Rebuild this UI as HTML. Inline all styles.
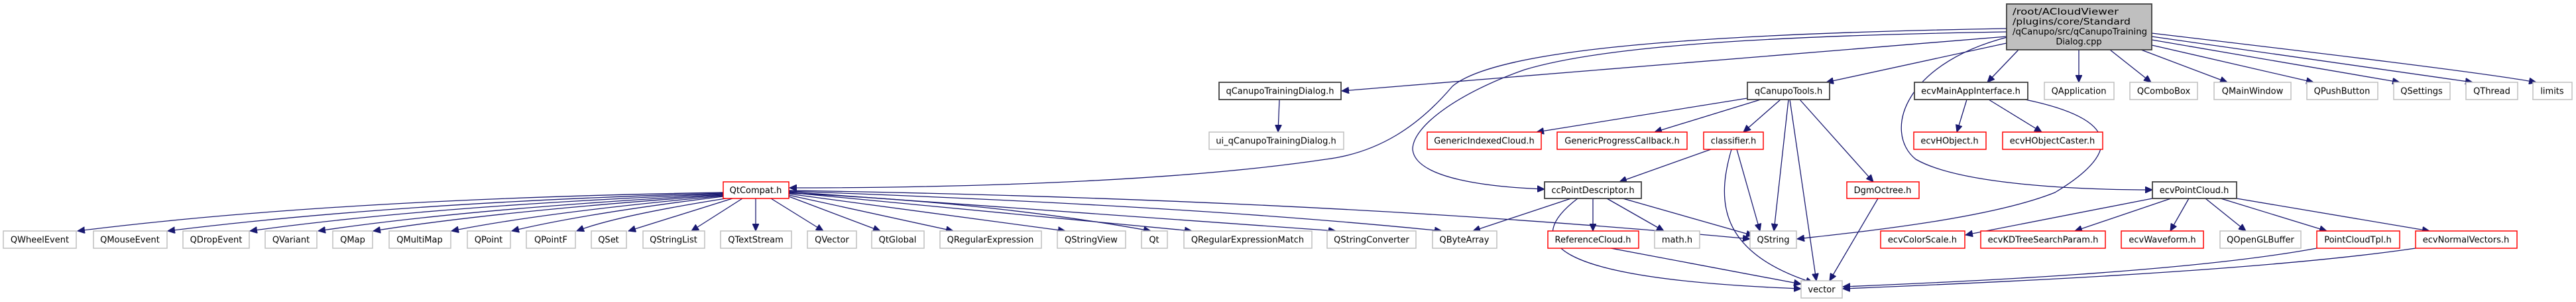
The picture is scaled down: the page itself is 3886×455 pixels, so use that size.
<!DOCTYPE html>
<html><head><meta charset="utf-8"><style>
html,body{margin:0;padding:0;background:#fff;}
svg{display:block;}
text{font-family:"DejaVu Sans","Liberation Sans",sans-serif;font-size:13px;fill:#000;}
.e{fill:none;stroke:#191970;stroke-width:1.3;}
.g{fill:#fff;stroke:#bfbfbf;stroke-width:1.5;}
.r{fill:#fff;stroke:#ff0000;stroke-width:1.5;}
.b{fill:#fff;stroke:#404040;stroke-width:1.8;}
</style></head><body>
<svg width="3886" height="455" viewBox="0 0 3886 455" xmlns="http://www.w3.org/2000/svg">
<defs><marker id="a" markerUnits="userSpaceOnUse" markerWidth="12" markerHeight="10" refX="11" refY="5" orient="auto"><path d="M0,0 L11,5 L0,10 z" fill="#191970" stroke="#191970"/></marker></defs>
<g class="e" marker-end="url(#a)">
<!-- root edges -->
<path d="M3027,55 L2024,137"/>
<path d="M3027,65 L2755,124"/>
<path d="M3045,75 L2998,124"/>
<path d="M3136,75 L3136,124"/>
<path d="M3183,75 L3245,124"/>
<path d="M3230,75 L3360,124"/>
<path d="M3246,68 L3490,124"/>
<path d="M3246,60 L3620,124"/>
<path d="M3246,55 L3730,124"/>
<path d="M3246,50 C3500,80 3750,110 3826,124"/>
<path d="M3027,43 C2500,52 2250,80 2191,130 C2140,190 2080,230 2000,240 C1800,270 1500,283 1191,283"/>
<path d="M3027,48 C2600,55 2400,75 2300,105 C2200,140 2131,190 2131,225 C2135,270 2250,282 2330,285"/>
<path d="M3045,52 C2870,90 2840,200 2890,240 C2960,280 3150,286 3247,286"/>
<!-- second level -->
<path d="M1930,150 L1928,199"/>
<path d="M2636,148 L2318,199"/>
<path d="M2656,150 L2496,199"/>
<path d="M2686,150 L2630,199"/>
<path d="M2698,150 L2676,348"/>
<path d="M2700,150 L2740,423"/>
<path d="M2715,150 L2826,274"/>
<path d="M2967,150 L2952,199"/>
<path d="M3000,150 L3080,199"/>
<path d="M3055,150 C3200,180 3200,230 3100,290 C3000,330 2800,350 2711,360"/>
<path d="M2581,225 L2443,274"/>
<path d="M2620,225 L2655,348"/>
<path d="M2612,225 C2590,300 2590,380 2735,426"/>
<path d="M2370,299 L2222,348"/>
<path d="M2403,299 L2403,348"/>
<path d="M2424,299 L2510,348"/>
<path d="M2448,299 L2645,355"/>
<path d="M2380,299 C2300,360 2320,420 2717,435"/>
<path d="M2430,374 L2717,428"/>
<path d="M2833,299 L2760,423"/>
<path d="M3247,299 L2965,354"/>
<path d="M3275,299 L3130,348"/>
<path d="M3302,299 L3274,348"/>
<path d="M3327,299 L3388,348"/>
<path d="M3350,299 L3510,348"/>
<path d="M3374,299 L3665,348"/>
<path d="M3495,374 C3300,410 2950,425 2780,432"/>
<path d="M3644,374 C3400,410 2950,428 2780,435"/>
<!-- QtCompat edges -->
<path d="M1091,290 Q500,300 117,348"/>
<path d="M1091,291 Q600,305 253,348"/>
<path d="M1091,292 Q650,310 377,348"/>
<path d="M1091,293 Q700,315 480,348"/>
<path d="M1091,294 Q750,318 563,348"/>
<path d="M1091,295 Q820,320 681,348"/>
<path d="M1091,296 Q880,322 772,348"/>
<path d="M1095,299 Q930,325 870,348"/>
<path d="M1105,299 L948,348"/>
<path d="M1120,299 L1043,348"/>
<path d="M1140,299 L1140,348"/>
<path d="M1163,299 L1242,348"/>
<path d="M1190,296 L1328,348"/>
<path d="M1190,294 L1438,348"/>
<path d="M1190,292 L1607,348"/>
<path d="M1190,291 Q1500,305 1736,348"/>
<path d="M1190,290 L1798,348"/>
<path d="M1190,289 L2015,348"/>
<path d="M1190,288 Q1800,310 2175,348"/>
<path d="M1190,287 Q2000,300 2640,360"/>
</g>
<!-- nodes -->
<rect x="3027" y="6" width="219" height="69" fill="#bfbfbf" stroke="#404040" stroke-width="1.8"/>
<text x="3036" y="22" textLength="160" lengthAdjust="spacingAndGlyphs">/root/ACloudViewer</text>
<text x="3036" y="37" textLength="178" lengthAdjust="spacingAndGlyphs">/plugins/core/Standard</text>
<text x="3036" y="52" textLength="203" lengthAdjust="spacingAndGlyphs">/qCanupo/src/qCanupoTraining</text>
<text x="3136" y="67" text-anchor="middle">Dialog.cpp</text>
<g>
<rect class="b" x="1839" y="124" width="184" height="26"/><text x="1931" y="141.5" text-anchor="middle">qCanupoTrainingDialog.h</text>
<rect class="b" x="2636" y="124" width="124" height="26"/><text x="2698" y="141.5" text-anchor="middle">qCanupoTools.h</text>
<rect class="b" x="2888" y="124" width="171" height="26"/><text x="2973" y="141.5" text-anchor="middle">ecvMainAppInterface.h</text>
<rect class="g" x="3084" y="124" width="105" height="26"/><text x="3136" y="141.5" text-anchor="middle">QApplication</text>
<rect class="g" x="3213" y="124" width="102" height="26"/><text x="3264" y="141.5" text-anchor="middle">QComboBox</text>
<rect class="g" x="3340" y="124" width="116" height="26"/><text x="3398" y="141.5" text-anchor="middle">QMainWindow</text>
<rect class="g" x="3480" y="124" width="107" height="26"/><text x="3533" y="141.5" text-anchor="middle">QPushButton</text>
<rect class="g" x="3611" y="124" width="85" height="26"/><text x="3653" y="141.5" text-anchor="middle">QSettings</text>
<rect class="g" x="3720" y="124" width="78" height="26"/><text x="3759" y="141.5" text-anchor="middle">QThread</text>
<rect class="g" x="3821" y="124" width="59" height="26"/><text x="3850" y="141.5" text-anchor="middle">limits</text>

<rect class="g" x="1824" y="199" width="203" height="26"/><text x="1925" y="216.5" text-anchor="middle">ui_qCanupoTrainingDialog.h</text>
<rect class="r" x="2153" y="199" width="172" height="26"/><text x="2239" y="216.5" text-anchor="middle">GenericIndexedCloud.h</text>
<rect class="r" x="2349" y="199" width="196" height="26"/><text x="2447" y="216.5" text-anchor="middle">GenericProgressCallback.h</text>
<rect class="r" x="2570" y="199" width="90" height="26"/><text x="2615" y="216.5" text-anchor="middle">classifier.h</text>
<rect class="r" x="2887" y="199" width="109" height="26"/><text x="2941" y="216.5" text-anchor="middle">ecvHObject.h</text>
<rect class="r" x="3021" y="199" width="151" height="26"/><text x="3096" y="216.5" text-anchor="middle">ecvHObjectCaster.h</text>

<rect class="r" x="1091" y="274" width="99" height="25"/><text x="1140" y="291" text-anchor="middle">QtCompat.h</text>
<rect class="b" x="2330" y="274" width="146" height="25"/><text x="2403" y="291" text-anchor="middle">ccPointDescriptor.h</text>
<rect class="r" x="2786" y="274" width="109" height="25"/><text x="2840" y="291" text-anchor="middle">DgmOctree.h</text>
<rect class="b" x="3247" y="274" width="127" height="25"/><text x="3310" y="291" text-anchor="middle">ecvPointCloud.h</text>

<rect class="g" x="5" y="348" width="110" height="26"/><text x="60" y="365.5" text-anchor="middle">QWheelEvent</text>
<rect class="g" x="141" y="348" width="111" height="26"/><text x="196" y="365.5" text-anchor="middle">QMouseEvent</text>
<rect class="g" x="276" y="348" width="100" height="26"/><text x="326" y="365.5" text-anchor="middle">QDropEvent</text>
<rect class="g" x="400" y="348" width="78" height="26"/><text x="439" y="365.5" text-anchor="middle">QVariant</text>
<rect class="g" x="502" y="348" width="60" height="26"/><text x="532" y="365.5" text-anchor="middle">QMap</text>
<rect class="g" x="587" y="348" width="93" height="26"/><text x="633" y="365.5" text-anchor="middle">QMultiMap</text>
<rect class="g" x="705" y="348" width="65" height="26"/><text x="737" y="365.5" text-anchor="middle">QPoint</text>
<rect class="g" x="794" y="348" width="74" height="26"/><text x="831" y="365.5" text-anchor="middle">QPointF</text>
<rect class="g" x="892" y="348" width="53" height="26"/><text x="918" y="365.5" text-anchor="middle">QSet</text>
<rect class="g" x="970" y="348" width="93" height="26"/><text x="1016" y="365.5" text-anchor="middle">QStringList</text>
<rect class="g" x="1087" y="348" width="107" height="26"/><text x="1140" y="365.5" text-anchor="middle">QTextStream</text>
<rect class="g" x="1218" y="348" width="74" height="26"/><text x="1255" y="365.5" text-anchor="middle">QVector</text>
<rect class="g" x="1315" y="348" width="79" height="26"/><text x="1354" y="365.5" text-anchor="middle">QtGlobal</text>
<rect class="g" x="1418" y="348" width="153" height="26"/><text x="1494" y="365.5" text-anchor="middle">QRegularExpression</text>
<rect class="g" x="1595" y="348" width="103" height="26"/><text x="1646" y="365.5" text-anchor="middle">QStringView</text>
<rect class="g" x="1722" y="348" width="39" height="26"/><text x="1741" y="365.5" text-anchor="middle">Qt</text>
<rect class="g" x="1786" y="348" width="193" height="26"/><text x="1882" y="365.5" text-anchor="middle">QRegularExpressionMatch</text>
<rect class="g" x="2002" y="348" width="134" height="26"/><text x="2069" y="365.5" text-anchor="middle">QStringConverter</text>
<rect class="g" x="2161" y="348" width="97" height="26"/><text x="2209" y="365.5" text-anchor="middle">QByteArray</text>
<rect class="r" x="2335" y="348" width="137" height="26"/><text x="2403" y="365.5" text-anchor="middle">ReferenceCloud.h</text>
<rect class="g" x="2496" y="348" width="68" height="26"/><text x="2530" y="365.5" text-anchor="middle">math.h</text>
<rect class="g" x="2640" y="348" width="70" height="26"/><text x="2675" y="365.5" text-anchor="middle">QString</text>
<rect class="r" x="2837" y="348" width="127" height="26"/><text x="2900" y="365.5" text-anchor="middle">ecvColorScale.h</text>
<rect class="r" x="2988" y="348" width="188" height="26"/><text x="3082" y="365.5" text-anchor="middle">ecvKDTreeSearchParam.h</text>
<rect class="r" x="3200" y="348" width="124" height="26"/><text x="3262" y="365.5" text-anchor="middle">ecvWaveform.h</text>
<rect class="g" x="3349" y="348" width="122" height="26"/><text x="3410" y="365.5" text-anchor="middle">QOpenGLBuffer</text>
<rect class="r" x="3495" y="348" width="125" height="26"/><text x="3557" y="365.5" text-anchor="middle">PointCloudTpl.h</text>
<rect class="r" x="3644" y="348" width="153" height="26"/><text x="3720" y="365.5" text-anchor="middle">ecvNormalVectors.h</text>

<rect class="g" x="2717" y="423" width="62" height="26"/><text x="2748" y="440.5" text-anchor="middle">vector</text>
</g>
</svg>
</body></html>
